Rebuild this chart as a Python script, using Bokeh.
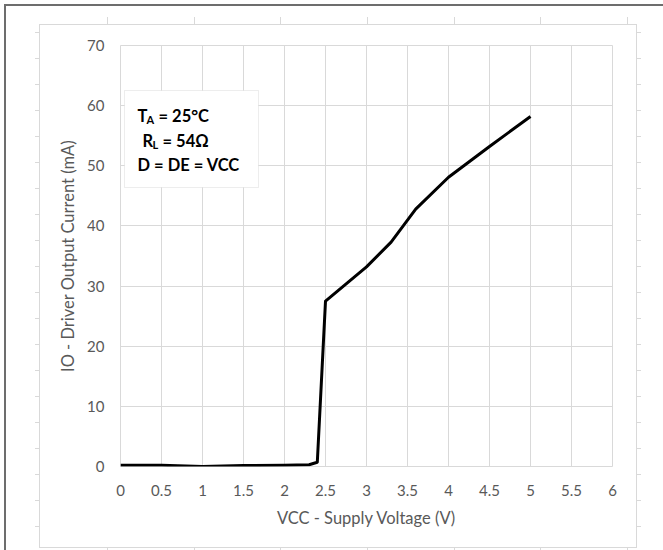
from bokeh.plotting import figure
from bokeh.models import Range1d, FixedTicker, NumeralTickFormatter, BoxAnnotation, Label
from bokeh.embed import file_html
from bokeh.resources import INLINE

# ---- data ----
vcc = [0, 0.5, 1, 1.5, 2, 2.3, 2.4, 2.5, 3, 3.3, 3.6, 4, 4.5, 5]
io_ma = [0.2, 0.2, 0.0, 0.15, 0.2, 0.3, 0.7, 27.5, 33.2, 37.3, 42.8, 48.1, 53.2, 58.2]
x_ticks = [0, 0.5, 1, 1.5, 2, 2.5, 3, 3.5, 4, 4.5, 5, 5.5, 6]
y_ticks = [0, 10, 20, 30, 40, 50, 60, 70]
x_title = "VCC - Supply Voltage (V)"
y_title = "IO - Driver Output Current (mA)"

# ---- layout ----
W, H = 663, 550
FL, FR, FT, FB = 120, 612, 45, 466
XMIN, XMAX, YMIN, YMAX = 0, 6, 0, 70
FONT = "Lato"
GRID = "#d9d9d9"
TXT = "#595959"


def dx(px):
    return XMIN + (px - FL) / (FR - FL) * (XMAX - XMIN)


def dy(py):
    return YMIN + (FB - py) / (FB - FT) * (YMAX - YMIN)


# page decorations (outer dark border, light chart frame and ruler ticks) via CSS
def bar(color, x, y, w, h):
    return (f"linear-gradient({color},{color})", f"{x}px {y}px", f"{w}px {h}px")


DARK = "#6d6d6d"
layers = [bar(DARK, 4, 4, W - 4, 2), bar(DARK, 4, 4, 2, H - 4),
          bar(GRID, 39, 24, 598, 1), bar(GRID, 39, 547, 598, 1),
          bar(GRID, 39, 24, 1, 524), bar(GRID, 636, 24, 1, 524)]
for k in range(20):
    yy = 32 + 26 * k
    layers.append(bar(GRID, 35, yy, 4, 1))
    layers.append(bar(GRID, 637, yy, 4, 1))
for k in range(7):
    xx = round(107 + 86.67 * k)
    layers.append(bar(GRID, xx, 17, 1, 7))
    layers.append(bar(GRID, xx, 548, 1, 2))

styles = {
    "background-color": "white",
    "background-image": ",".join(l[0] for l in layers),
    "background-position": ",".join(l[1] for l in layers),
    "background-size": ",".join(l[2] for l in layers),
    "background-repeat": "no-repeat",
}

p = figure(width=W, height=H, output_backend="svg", toolbar_location=None,
           x_range=Range1d(XMIN, XMAX), y_range=Range1d(YMIN, YMAX),
           min_border_left=FL, min_border_right=W - FR,
           min_border_top=FT, min_border_bottom=H - FB)
p.styles = styles
p.border_fill_color = None
p.background_fill_color = "white"
p.outline_line_color = GRID

for ax in (p.xaxis[0], p.yaxis[0]):
    ax.axis_line_color = None
    ax.major_tick_line_color = None
    ax.minor_tick_line_color = None
    ax.major_label_text_font = FONT
    ax.major_label_text_font_size = "15px"
    ax.major_label_text_color = TXT
    ax.axis_label_text_font = FONT
    ax.axis_label_text_font_size = "16.5px"
    ax.axis_label_text_font_style = "normal"
    ax.axis_label_text_color = TXT

p.xaxis.ticker = FixedTicker(ticks=x_ticks)
p.xaxis.formatter = NumeralTickFormatter(format="0.[0]")
p.xaxis.major_label_standoff = 12
p.xaxis.axis_label = x_title
p.xaxis.axis_label_standoff = 9

p.yaxis.ticker = FixedTicker(ticks=y_ticks)
p.yaxis.major_label_standoff = 10
p.yaxis.axis_label = y_title
p.yaxis.axis_label_standoff = 6

p.xgrid.ticker = FixedTicker(ticks=x_ticks)
p.ygrid.ticker = FixedTicker(ticks=y_ticks)
for g in (p.xgrid[0], p.ygrid[0]):
    g.grid_line_color = GRID
    g.grid_line_width = 1

p.line(vcc, io_ma, line_color="black", line_width=3, line_join="round")

# condition box
p.add_layout(BoxAnnotation(left=dx(124), right=dx(258), top=dy(90), bottom=dy(187),
                           fill_color="white", fill_alpha=1.0,
                           line_color="#c4c4c4", line_width=1))


def lab(text, px, py, size):
    p.add_layout(Label(x=dx(px), y=dy(py), text=text, text_font=FONT,
                       text_font_size=size, text_font_style="bold",
                       text_color="black", text_baseline="alphabetic",
                       text_align="left"))


lab("T", 137, 115, "16.5px")
lab("A", 146, 119, "11px")
lab("= 25°C", 158, 115, "16.5px")
lab("R", 142, 140, "16.5px")
lab("L", 152, 144, "11px")
lab("= 54Ω", 162, 140, "16.5px")
lab("D = DE = VCC", 137, 164, "16.5px")

open("out.html", "w").write(file_html(p, INLINE))
